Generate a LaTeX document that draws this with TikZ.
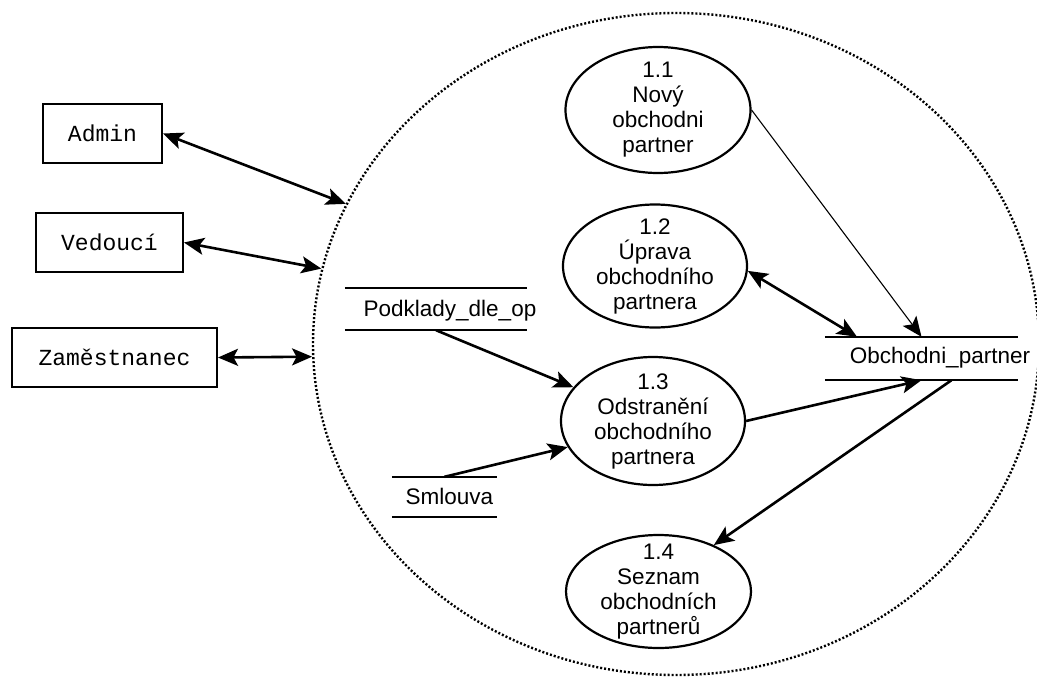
\documentclass[tikz,border=0pt]{standalone}
\usepackage{fontspec}
\setmainfont{Liberation Sans}
\newfontfamily\entityfont{Liberation Mono}
\usetikzlibrary{shapes.geometric,arrows.meta}

\begin{document}
\begin{tikzpicture}[x=1pt,y=-1pt,
  entity/.style={draw, rectangle, line width=2pt, inner sep=0pt, minimum height=59pt,
    font=\entityfont\fontsize{23}{26}\selectfont},
  process/.style={draw, ellipse, line width=2.2pt, align=center,
    inner xsep=0pt, inner ysep=-9pt, font=\fontsize{22.5}{25}\selectfont},
  boundary/.style={draw, ellipse, inner sep=0pt, line width=2.4pt,
    dash pattern=on 2pt off 2pt},
  store/.style={inner sep=0pt, minimum height=42pt},
  storeline/.style={line width=2.5pt},
  storelabel/.style={inner sep=0pt, font=\fontsize{22.5}{25}\selectfont},
  dfdtip/.tip={Stealth[length=20pt,width=17pt,inset=4.5pt]},
  onearrow/.style={-dfdtip, line width=2.6pt},
  botharrow/.style={dfdtip-dfdtip, line width=2.6pt},
  thinarrow/.style={-dfdtip, line width=1.1pt}]

\useasboundingbox (0,0) rectangle (1037,678);

% system boundary
\node[boundary, minimum width=726pt, minimum height=662pt] (bnd) at (676,344) {};

% external entities
\node[entity, minimum width=119pt] (admin) at (102.5,133.5) {Admin};
\node[entity, minimum width=147pt] (ved) at (109.5,242.5) {Vedoucí};
\node[entity, minimum width=205pt] (zam) at (114.5,357.5) {Zaměstnanec};

% processes
\node[process, minimum width=185pt, minimum height=126pt] (p11) at (658,110)
  {1.1\\Nový\\obchodni\\partner};
\node[process, minimum width=184pt, minimum height=123pt] (p12) at (655,266)
  {1.2\\Úprava\\obchodního\\partnera};
\node[process, minimum width=184pt, minimum height=128pt] (p13) at (653,421)
  {1.3\\Odstranění\\obchodního\\partnera};
\node[process, minimum width=185pt, minimum height=113pt] (p14) at (658.5,591.5)
  {1.4\\Seznam\\obchodních\\partnerů};

% data stores
\node[store, minimum width=182pt] (pod) at (436,309) {};
\node[store, minimum width=105pt, minimum height=40pt] (sml) at (444.5,497) {};
\node[store, minimum width=193pt, minimum height=43pt] (obp) at (921.5,358.5) {};
\foreach \s in {pod,sml,obp}
  \draw[storeline] (\s.north west) -- (\s.north east) (\s.south west) -- (\s.south east);
\node[storelabel] (podlbl) at (450,311) {Podklady\_dle\_op};
\node[storelabel] (smllbl) at (449.5,496) {Smlouva};
\node[storelabel] (obplbl) at (940,358) {Obchodni\_partner};

% flows to the external entities
\draw[botharrow] (admin.east) -- (bnd.157.8);
\draw[botharrow] (ved.east) -- (bnd.168.6);
\draw[botharrow] (zam.east) -- (bnd.182);

% internal flows
\draw[onearrow] (pod.south) -- (p13.157);
\draw[onearrow] (sml.north) -- (p13.197);
\draw[onearrow] (p13.east) -- (obp.south);
\draw[onearrow] ([xshift=30pt]obp.south) -- (p14.40);
\draw[thinarrow] (p11.east) -- (obp.north);
\draw[botharrow] (p12.-3) -- ([xshift=-64.5pt]obp.north);

\end{tikzpicture}
\end{document}
